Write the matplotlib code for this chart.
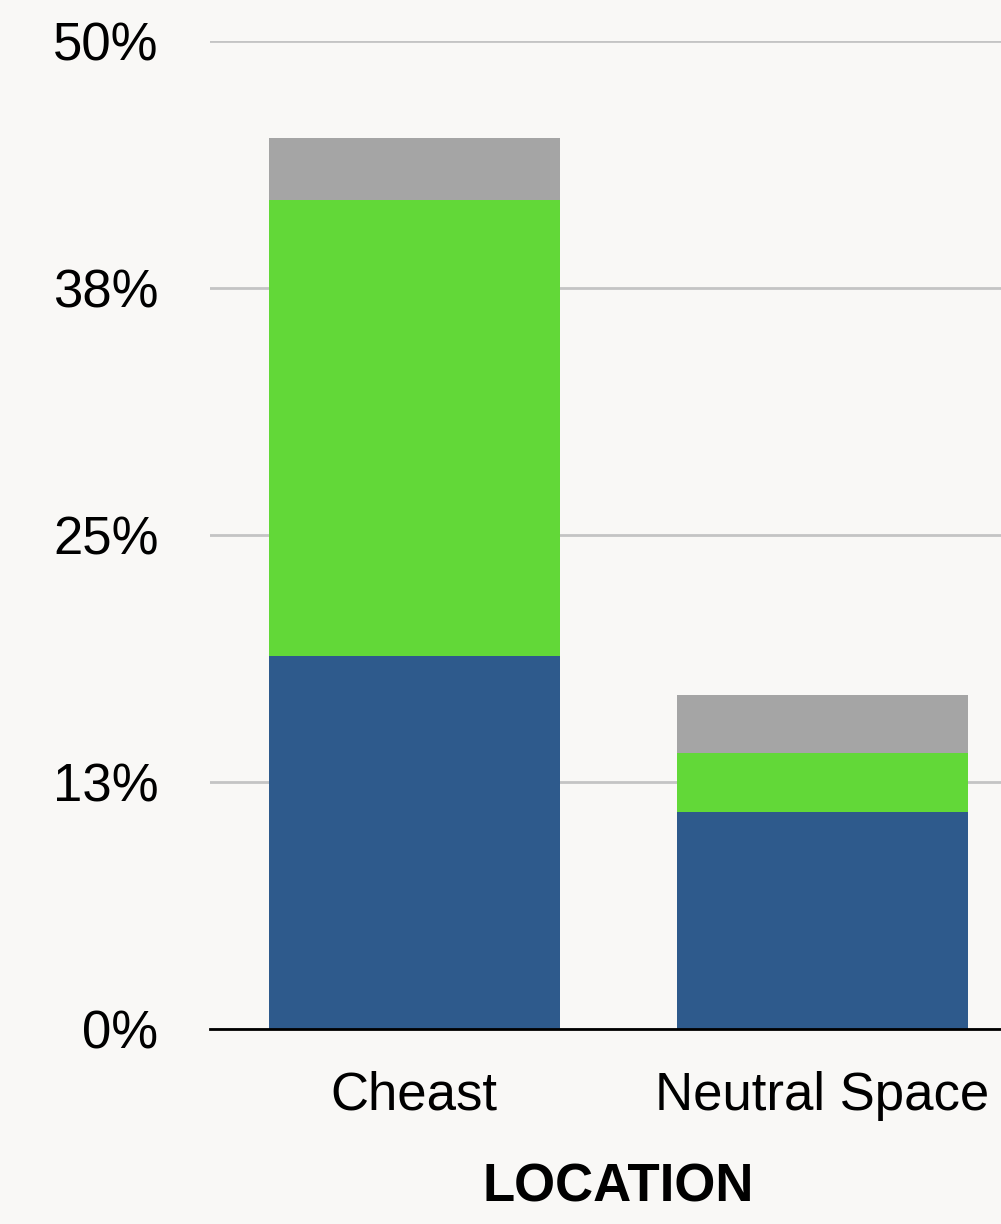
import numpy as np
import matplotlib
matplotlib.use("Agg")
import matplotlib.pyplot as plt

# data
locations = ["Cheast", "Neutral Space"]
blue_vals = [18.9, 11.0]
green_vals = [23.05, 2.95]
gray_vals = [3.15, 2.95]
tick_vals = [0, 12.5, 25, 37.5, 50]
tick_labels = ["0%", "13%", "25%", "38%", "50%"]

bg = "#f9f8f6"
plt.rcParams["font.family"] = ["Liberation Sans", "DejaVu Sans"]

fig = plt.figure(figsize=(10.01, 12.24), dpi=100, facecolor=bg)
W, H = 1001, 1224
ax = fig.add_axes([210 / W, (H - 1029) / H, 1.0 - 210 / W, (1029 - 41) / H])
ax.set_facecolor(bg)

x = np.arange(len(locations))
width = 0.713
blue = np.array(blue_vals)
green = np.array(green_vals)
gray = np.array(gray_vals)
ax.bar(x, blue, width, color="#2e5a8c", zorder=3)
ax.bar(x, green, width, bottom=blue, color="#62d838", zorder=3)
ax.bar(x, gray, width, bottom=blue + green, color="#a5a5a5", zorder=3)

ax.set_xlim(-0.5, 1.4375)
ax.set_ylim(0, 50)
ax.set_yticks(tick_vals)
ax.set_yticklabels(tick_labels)
ax.set_xticks(x)
ax.set_xticklabels(locations)
ax.tick_params(axis="both", length=0, labelsize=38, colors="black")
ax.tick_params(axis="y", pad=37)
ax.tick_params(axis="x", pad=30)
ax.yaxis.grid(True, color="#c4c4c4", linewidth=2, zorder=0)
for s in ["top", "right", "left"]:
    ax.spines[s].set_visible(False)
ax.spines["bottom"].set_linewidth(2)
ax.spines["bottom"].set_zorder(4)

fig.text(618 / W, 1 - 1187 / H, "LOCATION", ha="center", va="center",
         fontsize=38, fontweight="bold")

fig.savefig("out.png", dpi=100, facecolor=bg)
